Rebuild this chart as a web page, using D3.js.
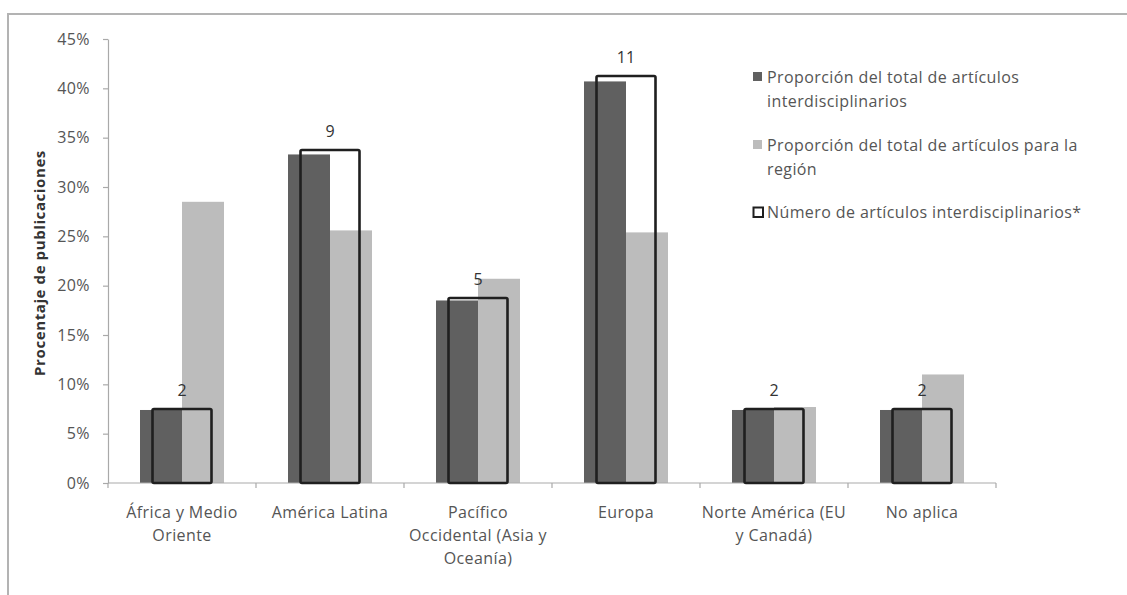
<!DOCTYPE html>
<html>
<head>
<meta charset="utf-8">
<script src="https://cdn.jsdelivr.net/npm/d3@7"></script>
<style>
  html, body { margin: 0; padding: 0; background: #fff; }
  svg { display: block; font-family: "Open Sans", sans-serif; }
</style>
</head>
<body>
<svg id="chart" width="1127" height="595"></svg>
<script>
// Regions (line breaks mark where each axis label wraps)
const categories = [
  "África y Medio\nOriente",
  "América Latina",
  "Pacífico\nOccidental (Asia y\nOceanía)",
  "Europa",
  "Norte América (EU\ny Canadá)",
  "No aplica"
];
// Share of all interdisciplinary articles (%)
const shareInterdisciplinary = [7.4, 33.3, 18.5, 40.7, 7.4, 7.4];
// Share of all articles for the region (%)
const shareRegion = [28.5, 25.6, 20.7, 25.4, 7.7, 11.0];
// Number of interdisciplinary articles (secondary scale)
const countInterdisciplinary = [2, 9, 5, 11, 2, 2];
const yTicks = [0, 5, 10, 15, 20, 25, 30, 35, 40, 45];
const legendLabels = [
  ["Proporción del total de artículos", "interdisciplinarios"],
  ["Proporción del total de artículos para la", "región"],
  ["Número de artículos interdisciplinarios*"]
];

const svg = d3.select("#chart");
const plot = { left: 108, right: 996, top: 39, bottom: 483 };
const axisColor = "#a9a9a9";
const textColor = "#555555";
const darkFill = "#606060";
const lightFill = "#bcbcbc";
const fontSize = 16;
const spacing = "0.4px";

// frame lines
svg.append("line").attr("x1", 8).attr("x2", 1127).attr("y1", 14).attr("y2", 14)
  .attr("stroke", "#b3b3b3").attr("stroke-width", 2);
svg.append("line").attr("x1", 8).attr("x2", 8).attr("y1", 13).attr("y2", 595)
  .attr("stroke", "#b3b3b3").attr("stroke-width", 2);

// scales
const pad = 64 / 148;
const x0 = d3.scaleBand().domain(categories).range([plot.left, plot.right])
  .paddingInner(pad).paddingOuter(pad / 2);
const x1 = d3.scaleBand().domain([0, 1]).range([0, x0.bandwidth()]);
const padOutline = 1 - 59 / 148;
const xOutline = d3.scaleBand().domain(categories).range([plot.left, plot.right])
  .paddingInner(padOutline).paddingOuter(padOutline / 2);
const y = d3.scaleLinear().domain([0, 45]).range([plot.bottom, plot.top]);
const y2 = d3.scaleLinear().domain([0, 12]).range([plot.bottom, plot.top]);

// y axis
const yAxis = svg.append("g").attr("transform", `translate(${plot.left},0)`)
  .call(d3.axisLeft(y).tickValues(yTicks).tickSize(5).tickSizeOuter(0).tickPadding(13)
    .tickFormat(d => d + "%"));
yAxis.select(".domain").attr("stroke", axisColor).attr("stroke-width", 1.2);
yAxis.selectAll(".tick line").attr("stroke", axisColor).attr("stroke-width", 1.2);
yAxis.selectAll(".tick text").attr("fill", textColor).attr("font-size", fontSize)
  .attr("letter-spacing", spacing)
  .attr("font-family", "'Open Sans', sans-serif");

// y title
svg.append("text")
  .attr("transform", "translate(45,263) rotate(-90)")
  .attr("text-anchor", "middle")
  .attr("font-size", 15).attr("font-weight", "bold").attr("fill", "#333")
  .attr("letter-spacing", "0.6px")
  .text("Procentaje de publicaciones");

// bars
const series = [shareInterdisciplinary, shareRegion];
const fills = [darkFill, lightFill];
const groups = svg.append("g").selectAll("g").data(categories).join("g")
  .attr("transform", d => `translate(${x0(d)},0)`);
groups.selectAll("rect").data((d, i) => series.map((s, k) => ({ k, v: s[i] }))).join("rect")
  .attr("x", d => x1(d.k))
  .attr("width", x1.bandwidth())
  .attr("y", d => y(d.v))
  .attr("height", d => y(0) - y(d.v))
  .attr("fill", d => fills[d.k]);

// x axis line and boundary ticks
svg.append("line").attr("x1", plot.left).attr("x2", plot.right)
  .attr("y1", plot.bottom).attr("y2", plot.bottom)
  .attr("stroke", axisColor).attr("stroke-width", 1.2);
const boundaries = categories.map(c => x0(c) - x0.step() * pad / 2).concat([plot.right]);
svg.append("g").selectAll("line").data(boundaries).join("line")
  .attr("x1", d => d).attr("x2", d => d)
  .attr("y1", plot.bottom).attr("y2", plot.bottom + 5)
  .attr("stroke", axisColor).attr("stroke-width", 1.2);

// category labels
const catLabels = svg.append("g").selectAll("text").data(categories).join("text")
  .attr("text-anchor", "middle")
  .attr("fill", textColor).attr("font-size", fontSize).attr("letter-spacing", spacing)
  .attr("x", d => x0(d) + x0.bandwidth() / 2)
  .attr("y", 518);
catLabels.selectAll("tspan").data(d => d.split("\n")).join("tspan")
  .attr("x", function () { return this.parentNode.getAttribute("x"); })
  .attr("dy", (d, i) => i === 0 ? 0 : 23)
  .text(d => d);

// outlined count bars (secondary scale)
svg.append("g").selectAll("rect").data(categories).join("rect")
  .attr("x", d => xOutline(d))
  .attr("width", xOutline.bandwidth())
  .attr("y", (d, i) => y2(countInterdisciplinary[i]))
  .attr("height", (d, i) => y2(0) - y2(countInterdisciplinary[i]))
  .attr("fill", "none").attr("stroke", "#1f1f1f").attr("stroke-width", 2.6)
  .attr("rx", 1.5);

// count labels
svg.append("g").selectAll("text").data(categories).join("text")
  .attr("text-anchor", "middle").attr("fill", "#333").attr("font-size", fontSize)
  .attr("x", d => xOutline(d) + xOutline.bandwidth() / 2)
  .attr("y", (d, i) => y2(countInterdisciplinary[i]) - 13)
  .text((d, i) => countInterdisciplinary[i]);

// legend
const legendY = [72, 140, 207];
const legend = svg.append("g");
legendLabels.forEach((lines, i) => {
  if (i < 2) {
    legend.append("rect").attr("x", 753).attr("y", legendY[i]).attr("width", 9).attr("height", 9)
      .attr("fill", fills[i]);
  } else {
    legend.append("rect").attr("x", 753.5).attr("y", legendY[i] + 0.5).attr("width", 9.5).attr("height", 9.5)
      .attr("fill", "#fff").attr("stroke", "#1f1f1f").attr("stroke-width", 2);
  }
  const t = legend.append("text").attr("x", 767).attr("y", legendY[i] + 11)
    .attr("fill", textColor).attr("font-size", fontSize).attr("letter-spacing", spacing);
  t.selectAll("tspan").data(lines).join("tspan")
    .attr("x", 767).attr("dy", (d, k) => k === 0 ? 0 : 24).text(d => d);
});
</script>
</body>
</html>
